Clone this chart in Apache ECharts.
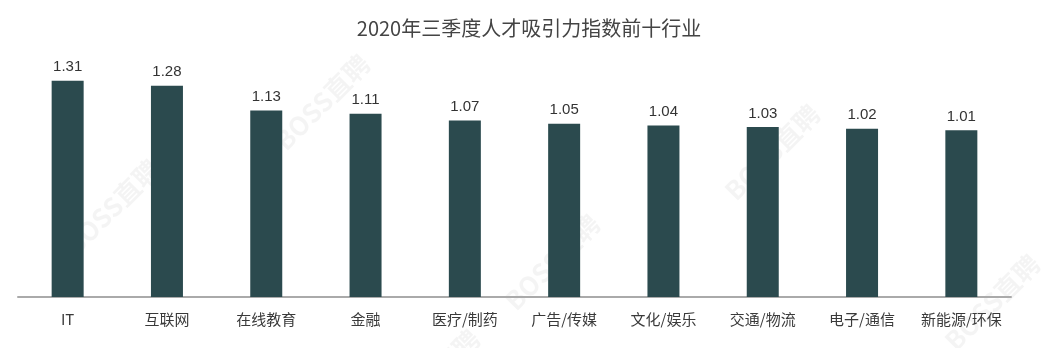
<!DOCTYPE html>
<html><head><meta charset="utf-8">
<script src="https://cdn.jsdelivr.net/npm/echarts@6/dist/echarts.min.js"></script>
<style>html,body{margin:0;padding:0;background:#fff}#c{width:1058px;height:348px}</style>
</head><body><div id="c"></div>
<script>
const categories = ['IT','互联网','在线教育','金融','医疗/制药','广告/传媒','文化/娱乐','交通/物流','电子/通信','新能源/环保'];
const values = [1.31,1.28,1.13,1.11,1.07,1.05,1.04,1.03,1.02,1.01];
const titleText = '2020年三季度人才吸引力指数前十行业';
const watermark = 'BOSS直聘';

const chart = echarts.init(document.getElementById('c'));
const font = '"Noto Sans CJK SC","Noto Sans",sans-serif';
const numFont = '"Liberation Sans","Noto Sans CJK SC",sans-serif';
const wm = [[120,175],[330,70],[560,230],[780,120],[1000,270],[440,345]].map(p=>({
  type:'text', left:p[0]-60, top:p[1]-20, rotation:Math.PI/4, z:-1,
  style:{text:watermark, fill:'rgba(0,0,0,0.045)', font:'bold 26px '+font}
}));
chart.setOption({
  animation:false,
  title:{text:titleText,left:'center',top:13,textStyle:{fontFamily:font,fontSize:20,fontWeight:'normal',color:'#444'}},
  graphic:wm,
  grid:{left:18,right:47,top:66,bottom:51,containLabel:false},
  xAxis:{type:'category',data:categories,
    axisLine:{lineStyle:{color:'#aaa',width:2}},axisTick:{show:false},
    axisLabel:{interval:0,hideOverlap:false,fontFamily:font,fontSize:15,color:'#3a3a3a',margin:15}},
  yAxis:{type:'value',min:0,max:1.4,show:false,splitLine:{show:false}},
  series:[{type:'bar',data:values,barWidth:32,
    itemStyle:{color:'#2b4a4e'},
    label:{show:true,position:'top',distance:6,fontFamily:numFont,fontSize:15,color:'#333',formatter:p=>p.value.toFixed(2)}}]
});
</script></body></html>
